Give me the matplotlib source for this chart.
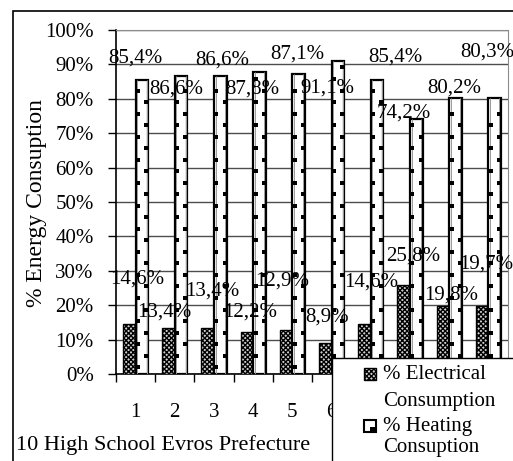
import matplotlib
matplotlib.use('Agg')
import matplotlib.pyplot as plt
from matplotlib.patches import Rectangle
import numpy as np

plt.rcParams['font.family'] = ['Liberation Serif', 'DejaVu Serif']
plt.rcParams['hatch.linewidth'] = 1.0

# data: 10 high schools, share of energy use
schools = ['1', '2', '3', '4', '5', '6', '7', '8', '9', '10']
electrical = [14.6, 13.4, 13.4, 12.2, 12.9, 8.9, 14.6, 25.8, 19.8, 19.7]
heating = [85.4, 86.6, 86.6, 87.8, 87.1, 91.1, 85.4, 74.2, 80.2, 80.3]

# where the data labels sit (hand placed in the original)
elec_lab_x = [0.54, 1.22, 2.45, 3.42, 4.23, 5.38, 6.51, 7.58, 8.55, 9.44]
elec_lab_y = [27.6, 18.0, 24.0, 18.0, 27.0, 16.5, 26.7, 34.3, 23.0, 32.0]
heat_lab_x = [0.485, 1.53, 2.70, 3.49, 4.62, 5.38, 7.12, 7.35, 8.62, 9.46]
heat_lab_y = [91.9, 82.8, 91.3, 82.8, 93.0, 83.0, 92.0, 76.0, 83.0, 93.6]

W, H = 513, 461
fig = plt.figure(figsize=(W / 100, H / 100), dpi=100)
ax = fig.add_axes([116 / W, 1 - 374 / H, (508 - 116) / W, (374 - 30) / H])

x = np.arange(len(schools)) + 0.5
bw = 0.32
ax.bar(x - bw / 2, electrical, bw, facecolor='#d0d0d0', edgecolor='black',
       hatch='xxxxxxx', linewidth=1.0, zorder=3)
ax.bar(x + bw / 2, heating, bw, facecolor='white', edgecolor='black',
       linewidth=1.6, zorder=3)

# dotted pattern inside the heating bars
step = 6.7
for i, h in enumerate(heating):
    xl = x[i] + 0.04
    xr = x[i] + bw - 0.04
    ax.vlines([xl, xr], 0, h, color='#9a9a9a', linewidth=0.7, zorder=4)
    off = (i % 2) * step / 2
    yl = np.arange(2 + off, h - 1.5, step)
    yr = np.arange(2 + step / 2 - off + step * (i % 2), h - 1.5, step)
    ax.plot(np.full(len(yl), xl + 0.02), yl, 's', color='black', ms=3.2,
            mew=0, zorder=4)
    ax.plot(np.full(len(yr), xr - 0.01), yr, 's', color='black', ms=3.2,
            mew=0, zorder=4)

fs = 15
for i in range(len(schools)):
    ax.text(elec_lab_x[i], elec_lab_y[i], f'{electrical[i]:.1f}%'.replace('.', ','),
            ha='center', va='center', fontsize=fs, zorder=5)
    ax.text(heat_lab_x[i], heat_lab_y[i], f'{heating[i]:.1f}%'.replace('.', ','),
            ha='center', va='center', fontsize=fs, zorder=5)

ax.set_xlim(0, len(schools))
ax.set_ylim(0, 100)
ax.set_yticks(np.arange(0, 101, 10))
ax.set_yticklabels([f'{v}%' for v in range(0, 101, 10)], fontsize=fs)
ax.yaxis.grid(True, color='#4d4d4d', linewidth=1.0, zorder=0)
ax.set_axisbelow(True)

ax.set_xticks(np.arange(0, len(schools) + 1))
ax.set_xticklabels([])
ax.set_xticks(x, minor=True)
ax.set_xticklabels(schools, minor=True, fontsize=fs)
# labels 7-10 sit under the legend box
for lab in ax.get_xticklabels(minor=True)[6:]:
    lab.set_visible(False)
ax.tick_params(axis='x', which='major', direction='out', length=6, width=1)
ax.tick_params(axis='x', which='minor', length=0, pad=21)
ax.tick_params(axis='y', direction='out', length=6, width=1, pad=10)

for s in ['top', 'right']:
    ax.spines[s].set_color('#8c8c8c')
for s in ['left', 'bottom']:
    ax.spines[s].set_color('black')
    ax.spines[s].set_linewidth(1.2)

# outer chart frame (clipped by the figure edge)
fig.add_artist(Rectangle((13 / W, -0.1), 1.0, 1 - 11 / H + 0.1, fill=False,
                         edgecolor='black', linewidth=1.2,
                         transform=fig.transFigure))

fig.text(37 / W, 1 - 203 / H, '% Energy Consuption', rotation=90,
         ha='center', va='center', fontsize=17)
fig.text(16 / W, 1 - 445 / H, '10 High School Evros Prefecture',
         ha='left', va='center', fontsize=16)

# legend box
fig.add_artist(Rectangle((332 / W, -0.1), 1.0, 1 - 358 / H + 0.1,
                         facecolor='white', edgecolor='black', linewidth=1.0,
                         transform=fig.transFigure, zorder=10))
fig.add_artist(Rectangle((364 / W, 1 - 380 / H), 12 / W, 12 / H,
                         facecolor='#d0d0d0', edgecolor='black', hatch='xxxxxxx',
                         linewidth=1.0, transform=fig.transFigure, zorder=11))
fig.add_artist(Rectangle((364 / W, 1 - 432 / H), 12 / W, 12 / H,
                         facecolor='white', edgecolor='black', linewidth=1.5,
                         transform=fig.transFigure, zorder=11))
fig.add_artist(Rectangle((370 / W, 1 - 432 / H), 6 / W, 5 / H,
                         facecolor='black', edgecolor='black', linewidth=0,
                         transform=fig.transFigure, zorder=12))
legend_lines = [('% Electrical', 374), ('Consumption', 401),
                ('% Heating', 426), ('Consuption', 447)]
for txt, py in legend_lines:
    fig.text(383 / W, 1 - py / H, txt, ha='left', va='center', fontsize=fs,
             zorder=12)

fig.savefig('out.png', dpi=100)
